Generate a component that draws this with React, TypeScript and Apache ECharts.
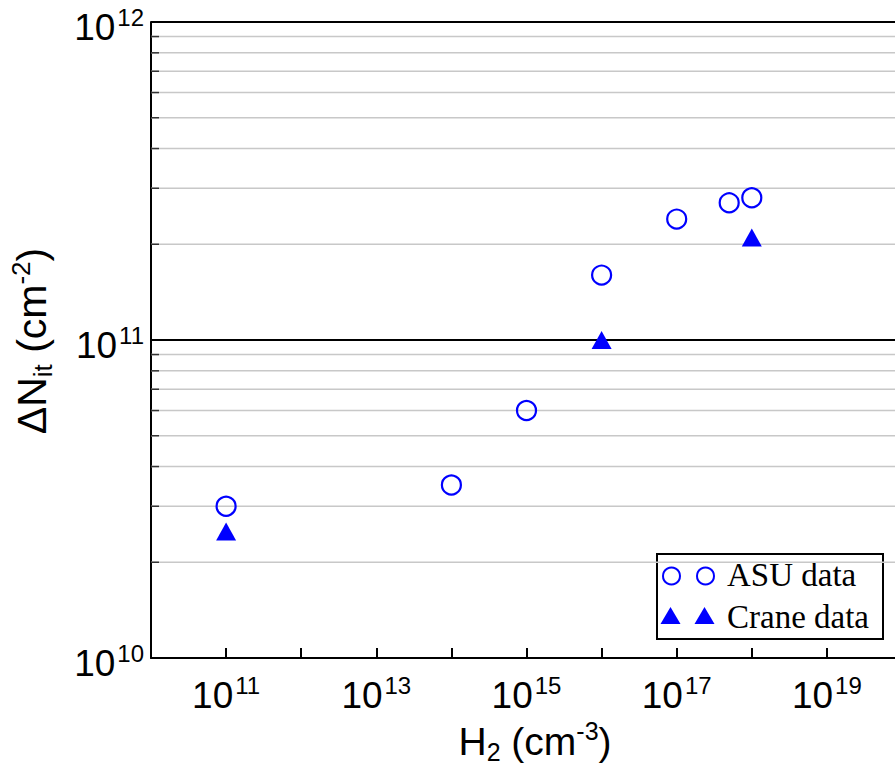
import React, { useEffect, useRef } from 'react';
import * as echarts from 'echarts';

// ---- data ----
const asuX = [1e11, 1e14, 1e15, 1e16, 1e17, 5e17, 1e18];
const asuY = [3.0e10, 3.5e10, 6.0e10, 1.6e11, 2.4e11, 2.7e11, 2.8e11];
const craneX = [1e11, 1e16, 1e18];
const craneY = [2.5e10, 1.0e11, 2.1e11];
const yMinor = [2e10, 3e10, 4e10, 5e10, 6e10, 7e10, 8e10, 9e10, 2e11, 3e11, 4e11, 5e11, 6e11, 7e11, 8e11, 9e11];
const X_MIN = 1e10;
const X_MAX = 1e20;
const Y_MIN = 1e10;
const Y_MAX = 1e12;
const seriesNames = ['ASU data', 'Crane data'];

const BLUE = '#0000ff';
const SANS = 'Liberation Sans, Arial, sans-serif';
const SERIF = 'Liberation Serif, Times New Roman, serif';

const tickRich = {
  b: { fontSize: 37, lineHeight: 44, fontFamily: SANS, color: '#000' },
  s: { fontSize: 24, lineHeight: 30, verticalAlign: 'top', fontFamily: SANS, color: '#000', padding: [0, 0, 0, 2] },
};
const makeNameRich = (base: number, small: number) => ({
  b: { fontSize: base, lineHeight: base + 7, fontFamily: SANS, color: '#000' },
  sub: { fontSize: small, lineHeight: 16, verticalAlign: 'bottom', fontFamily: SANS, color: '#000' },
  sup: { fontSize: small, lineHeight: 30, verticalAlign: 'top', fontFamily: SANS, color: '#000' },
});

export default function App() {
  const ref = useRef<HTMLDivElement>(null);
  useEffect(() => {
    if (!ref.current) return;
    const chart = echarts.init(ref.current, undefined, { renderer: 'svg' });
    const option: any = {
      animation: false,
      backgroundColor: '#fff',
      grid: { left: 151, top: 22, width: 751, height: 636, containLabel: false },
      xAxis: {
        type: 'log',
        logBase: 10,
        min: X_MIN,
        max: X_MAX,
        interval: 1,
        splitNumber: 10,
        axisLine: { show: true, lineStyle: { color: '#000', width: 2 } },
        axisTick: { show: true, inside: true, length: 10, lineStyle: { color: '#000', width: 2 } },
        splitLine: { show: false },
        minorTick: { show: false },
        axisLabel: {
          margin: 15,
          formatter: (v: number) => {
            const n = Math.round(Math.log10(v));
            return n % 2 === 1 ? `{b|10}{s|${n}}` : '';
          },
          rich: tickRich,
        },
      },
      yAxis: {
        type: 'log',
        logBase: 10,
        min: Y_MIN,
        max: Y_MAX,
        axisLine: { show: true, lineStyle: { color: '#000', width: 2 } },
        axisTick: { show: true, inside: true, length: 9, lineStyle: { color: '#000', width: 2 } },
        splitLine: { show: true, lineStyle: { color: '#000', width: 2 } },
        minorTick: { show: false },
        axisLabel: {
          margin: 7,
          padding: [10, 0, 0, 0],
          formatter: (v: number) => {
            const n = Math.round(Math.log10(v));
            return `{b|10}{s|${n}}`;
          },
          rich: tickRich,
        },
      },
      series: [
        {
          type: 'custom',
          name: 'minor',
          silent: true,
          z: 1,
          data: yMinor.map((v) => [X_MIN, v]),
          renderItem: (params: any, api: any) => {
            const v = api.value(1);
            const p0 = api.coord([X_MIN, v]);
            const p1 = api.coord([X_MAX, v]);
            return {
              type: 'group',
              children: [
                { type: 'line', shape: { x1: p0[0], y1: p0[1], x2: p1[0], y2: p1[1] }, style: { stroke: '#c8c8c8', lineWidth: 1.5 } },
                { type: 'line', shape: { x1: p0[0], y1: p0[1], x2: p0[0] + 8, y2: p0[1] }, style: { stroke: '#333', lineWidth: 1.5 } },
              ],
            };
          },
        },
        {
          type: 'scatter',
          name: seriesNames[0],
          z: 5,
          symbol: 'circle',
          symbolSize: 19,
          itemStyle: { color: 'rgba(255,255,255,0)', borderColor: BLUE, borderWidth: 2.2, opacity: 1 },
          data: asuX.map((x, i) => [x, asuY[i]]),
        },
        {
          type: 'scatter',
          name: seriesNames[1],
          z: 5,
          symbol: 'triangle',
          symbolSize: [20, 18],
          itemStyle: { color: BLUE, opacity: 1 },
          data: craneX.map((x, i) => [x, craneY[i]]),
        },
      ],
      graphic: [
        {
          type: 'text',
          x: 535,
          y: 741,
          style: {
            text: '{b|H}{sub|2}{b| (cm}{sup|-3}{b|)}',
            rich: makeNameRich(39, 25),
            align: 'center',
            verticalAlign: 'middle',
          },
        },
        {
          type: 'text',
          x: 32,
          y: 341,
          rotation: Math.PI / 2,
          style: {
            text: '{b|ΔN}{sub|it}{b| (cm}{sup|-2}{b|)}',
            rich: makeNameRich(41, 26),
            align: 'center',
            verticalAlign: 'middle',
          },
        },
        {
          type: 'group',
          z: 100,
          children: [
            { type: 'rect', shape: { x: 657, y: 554, width: 226, height: 85 }, style: { fill: '#fff', stroke: '#000', lineWidth: 2 } },
            { type: 'circle', shape: { cx: 671.5, cy: 576, r: 8.5 }, style: { fill: 'none', stroke: BLUE, lineWidth: 2 } },
            { type: 'circle', shape: { cx: 705.5, cy: 576, r: 8.5 }, style: { fill: 'none', stroke: BLUE, lineWidth: 2 } },
            { type: 'polygon', shape: { points: [[670.5, 607], [680.5, 624], [660.5, 624]] }, style: { fill: BLUE } },
            { type: 'polygon', shape: { points: [[704.5, 607], [714.5, 624], [694.5, 624]] }, style: { fill: BLUE } },
            { type: 'text', x: 727, y: 575, style: { text: seriesNames[0], font: `33px ${SERIF}`, fill: '#000', verticalAlign: 'middle' } },
            { type: 'text', x: 727, y: 617, style: { text: seriesNames[1], font: `33px ${SERIF}`, fill: '#000', verticalAlign: 'middle' } },
          ],
        },
      ],
    };
    chart.setOption(option);
    return () => chart.dispose();
  }, []);
  return (
    <div style={{ position: 'absolute', left: 0, top: 0, width: 895, height: 768, overflow: 'hidden', background: '#fff' }}>
      <div ref={ref} style={{ width: 930, height: 768 }} />
    </div>
  );
}
